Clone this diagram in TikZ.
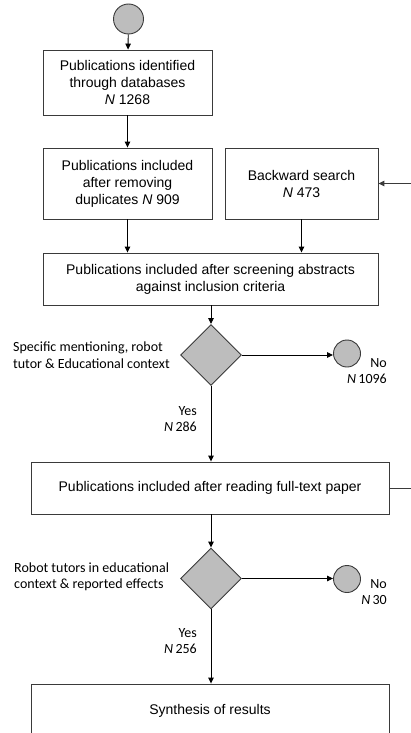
\documentclass[tikz,border=0pt]{standalone}
\usepackage{fontspec}
\setmainfont{Liberation Sans}
\newfontfamily\calib{Carlito}
\usetikzlibrary{shapes.geometric,arrows.meta}
\definecolor{fillg}{HTML}{BDBDBD}
\definecolor{edgeg}{HTML}{3A3A3A}
\begin{document}
\begin{tikzpicture}[x=1pt,y=-1pt,
  box/.style={draw=edgeg,line width=0.9pt,fill=white,align=center,inner sep=2pt,
    font=\fontsize{14}{17}\selectfont},
  dec/.style={draw=edgeg,line width=0.9pt,fill=fillg,diamond,aspect=1,inner sep=0pt,minimum size=61},
  term/.style={draw=edgeg,line width=0.9pt,fill=fillg,circle,inner sep=0pt,minimum size=27},
  lab/.style={font=\calib\fontsize{14}{16.5}\selectfont,inner sep=0pt},
  arr/.style={draw=black,line width=0.9pt,-{Triangle[length=6pt,width=5.5pt]}},
  ln/.style={draw=edgeg,line width=1pt}]
\useasboundingbox (0,0) rectangle (410,733);
\node[term,minimum width=26,minimum height=30] (start) at (128.5,19) {};
\node[box,minimum width=169,minimum height=65] (b1) at (127.5,82.5) {Publications identified\\through databases\\\textit{N} 1268};
\node[box,minimum width=169,minimum height=71] (b2) at (127.5,183.5) {Publications included\\after removing\\duplicates \textit{N} 909};
\node[box,minimum width=153,minimum height=71] (bk) at (301.5,183.5) {Backward search\\\textit{N} 473};
\node[box,minimum width=335,minimum height=52] (b3) at (210.5,279) {Publications included after screening abstracts\\against inclusion criteria};
\node[dec] (d1) at (211,355) {};
\node[term] (n1) at (347,353.5) {};
\node[box,minimum width=358,minimum height=52] (b4) at (210,488) {Publications included after reading full-text paper};
\node[dec] (d2) at (211,578.5) {};
\node[term] (n2) at (347,579) {};
\node[box,minimum width=358,minimum height=54] (b5) at (210,711) {Synthesis of results};
\node[lab,anchor=west,align=left] (l1) at (13,355) {Specific mentioning, robot\\tutor \& Educational context};
\node[lab,anchor=west,align=left] (l2) at (14,577) {Robot tutors in educational\\context \& reported effects};
\node[lab,anchor=east,align=right] (y1) at (197,419) {Yes\\\textit{N}\,286};
\node[lab,anchor=east,align=right] (y2) at (197,641) {Yes\\\textit{N}\,256};
\node[lab,anchor=east,align=right] (no1) at (387,371) {No\\\textit{N}\,1096};
\node[lab,anchor=east,align=right] (no2) at (387,592) {No\\\textit{N}\,30};
\coordinate (fb) at (416,488);
\draw[arr] (start) -- (b1);
\draw[arr] (b1) -- (b2);
\draw[arr] (b2.south) -- (b2.south |- b3.north);
\draw[arr] (bk.south) -- (bk.south |- b3.north);
\draw[arr] (b3.south -| d1.north) -- (d1.north);
\draw[arr] (d1.east) -- (n1.west |- d1.east);
\draw[arr] (d1.south) -- (d1.south |- b4.north);
\draw[arr] (b4.south -| d2.north) -- (d2.north);
\draw[arr] (d2.east) -- (n2.west |- d2.east);
\draw[arr] (d2.south) -- (d2.south |- b5.north);
\draw[ln,-{Triangle[length=6pt,width=5.5pt]}] (b4.east) -- (fb) -- (fb |- bk.east) -- (bk.east);
\end{tikzpicture}
\end{document}
